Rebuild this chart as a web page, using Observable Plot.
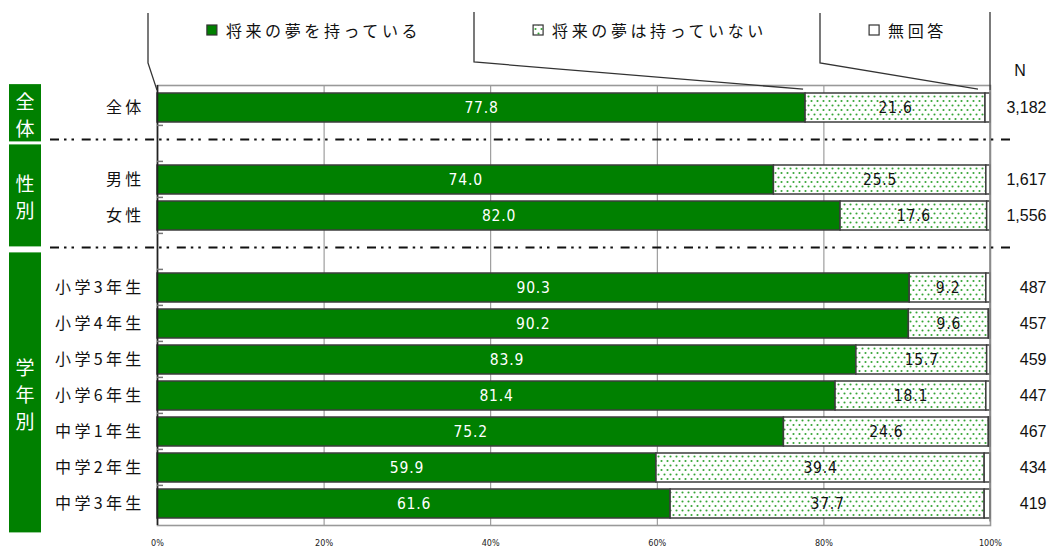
<!DOCTYPE html>
<html><head><meta charset="utf-8">
<script src="https://cdn.jsdelivr.net/npm/d3@7"></script>
<script src="https://cdn.jsdelivr.net/npm/@observablehq/plot@0.6"></script>
<style>
body{margin:0;background:#fff;}
#chart svg{display:block}
</style></head><body>
<svg width="0" height="0" style="position:absolute">
<defs>
<pattern id="dots" patternUnits="userSpaceOnUse" width="6" height="9">
<rect width="6" height="9" fill="#fff"/>
<circle cx="1.5" cy="2" r="1.05" fill="#35a535"/>
<circle cx="4.5" cy="6.5" r="1.05" fill="#35a535"/>
</pattern>
</defs></svg>
<div id="chart"></div>
<script>
const categories = ["全体","男性","女性","小学3年生","小学4年生","小学5年生","小学6年生","中学1年生","中学2年生","中学3年生"];
const haveDream = [77.8,74.0,82.0,90.3,90.2,83.9,81.4,75.2,59.9,61.6];
const noDream   = [21.6,25.5,17.6,9.2,9.6,15.7,18.1,24.6,39.4,37.7];
const noAnswer  = [0.6,0.5,0.4,0.5,0.2,0.4,0.5,0.2,0.7,0.7];
const nValues   = ["3,182","1,617","1,556","487","457","459","447","467","434","419"];
const seriesNames = ["将来の夢を持っている","将来の夢は持っていない","無回答"];
const seriesFills = ["#008000","url(#dots)","#ffffff"];
const groupNames = ["全体","性別","学年別"];
const xTicks = [0,20,40,60,80,100];
const gridTicks = [20,40,60,80];

const gapKeys = ["_gap1","_gap2"];
const rowOrder = [categories[0], gapKeys[0], categories[1], categories[2], gapKeys[1], ...categories.slice(3)];

const segments = [];
categories.forEach((c,i)=>{
  const vals = [haveDream[i], noDream[i], noAnswer[i]];
  let acc = 0;
  vals.forEach((v,j)=>{ segments.push({cat:c, series:seriesNames[j], value:v, x1:acc, x2:acc+v}); acc += v; });
});
const rows = categories.map((c,i)=>({cat:c, n:nValues[i]}));

const JP = "'Noto Sans CJK JP', 'Noto Sans', sans-serif";
const LIB = "'Liberation Sans', Arial, sans-serif";
const NARROW = "'Liberation Sans Narrow', 'DejaVu Sans Condensed', sans-serif";
const plot = Plot.plot({
  width: 1049, height: 550,
  marginLeft: 157, marginRight: 59, marginTop: 85, marginBottom: 25,
  style: {fontFamily: JP, background: "#fff", overflow: "visible"},
  x: {domain: [0,100], axis: null},
  y: {domain: rowOrder, paddingInner: 0.2, paddingOuter: 0.1, axis: null},
  color: {domain: seriesNames, range: seriesFills},
  marks: [
    Plot.gridX(gridTicks, {stroke: "#8a8a8a", strokeOpacity: 1, strokeWidth: 1}),
    Plot.frame({stroke: "#999", strokeWidth: 1.6}),
    Plot.barX(segments, {x1: "x1", x2: "x2", y: "cat", fill: "series", stroke: "#3c3c3c", strokeWidth: 1.5}),
    Plot.text(segments.filter(d=>d.series===seriesNames[0]), {x: d=>(d.x1+d.x2)/2, y: "cat", text: d=>d.value.toFixed(1), fill: "#fff", fontSize: 15.5, fontFamily: NARROW}),
    Plot.text(segments.filter(d=>d.series===seriesNames[1]), {x: d=>(d.x1+d.x2)/2, y: "cat", text: d=>d.value.toFixed(1), fill: "#111", fontSize: 15.5, fontFamily: NARROW}),
    Plot.ruleX([0], {stroke: "#222", strokeWidth: 1.6}),
    Plot.text(rows, {y: "cat", text: "cat", frameAnchor: "left", textAnchor: "end", dx: -13, fontSize: 16, fill: "#111"}),
    Plot.text(rows, {y: "cat", text: "n", frameAnchor: "right", textAnchor: "end", dx: 56, fontSize: 16, fill: "#111", fontFamily: LIB}),
    Plot.axisX(xTicks, {anchor: "bottom", tickSize: 0, tickPadding: 14, tickFormat: d=>d+"%", fontSize: 9, fontFamily: NARROW, fill: "#222"})
  ]
});
document.getElementById("chart").append(plot);

const xs = plot.scale("x"), ys = plot.scale("y");
const X = v => xs.apply(v);
const step = ys.apply(rowOrder[1]) - ys.apply(rowOrder[0]);
const bw = step * 0.8;
const center = k => ys.apply(k) + bw/2;
const svg = d3.select(plot);
const markTexts = svg.selectAll("g[aria-label=text] text");
markTexts.filter(function(){ return /^\d+\.\d$/.test(this.textContent); }).attr("letter-spacing", "0.8px");
markTexts.filter(function(){ return categories.includes(this.textContent); }).attr("letter-spacing", "3.3px");

const ann = svg.append("g").attr("text-anchor", "start");
// left small ticks at band boundaries
const bounds = rowOrder.map(k => center(k) - step/2).concat([center(rowOrder[rowOrder.length-1]) + step/2]);
ann.selectAll("line.bt").data(bounds.slice(1,-1)).join("line")
  .attr("x1", X(0)).attr("x2", X(0)+6).attr("y1", d=>d).attr("y2", d=>d)
  .attr("stroke", "#777").attr("stroke-width", 1.5);

// dashed separators
const dashY = gapKeys.map(k => center(k) - 4);
ann.selectAll("line.dash").data(dashY).join("line")
  .attr("x1", 50).attr("x2", 1010).attr("y1", d=>d).attr("y2", d=>d)
  .attr("stroke", "#111").attr("stroke-width", 2)
  .attr("stroke-dasharray", "9,5,2.5,5,2.5,7.7");

// group boxes
const lastKey = rowOrder[rowOrder.length-1];
const boxes = [
  {name: groupNames[0], y1: ys.apply(categories[0]) - bw*0.1 - 6, y2: dashY[0] + 2},
  {name: groupNames[1], y1: dashY[0] + 5, y2: dashY[1] - 1},
  {name: groupNames[2], y1: dashY[1] + 5, y2: center(lastKey) + step/2 + 11}
];
boxes.forEach(b=>{
  ann.append("rect").attr("x", 9).attr("y", b.y1).attr("width", 32).attr("height", b.y2-b.y1).attr("fill", "#008000");
  const chars = Array.from(b.name);
  const mid = (b.y1+b.y2)/2 + 1, lh = 27;
  chars.forEach((ch,i)=>{
    ann.append("text").attr("x", 25).attr("y", mid + (i-(chars.length-1)/2)*lh)
      .attr("text-anchor","middle").attr("dominant-baseline","central")
      .attr("fill","#fff").attr("font-size", 19).attr("font-family", JP).text(ch);
  });
});

// legend brackets
const topY = ys.apply(rowOrder[0]) - bw*0.1;
const bx = [X(0)-9, 474, 820, X(100)];
const cum1 = haveDream[0], cum2 = haveDream[0] + noDream[0];
const paths = [
  [[bx[0],13],[bx[0],63],[X(0),topY]],
  [[bx[1],12],[bx[1],62],[X(cum1)-2,topY-1]],
  [[bx[2],13],[bx[2],63],[X(cum2)-7,topY-1]],
  [[bx[3],12],[bx[3],topY]]
];
paths.forEach(p=>{
  ann.append("path").attr("d", d3.line()(p)).attr("fill","none").attr("stroke","#333").attr("stroke-width",1.3);
});
// right border extension
ann.append("line").attr("x1", X(100)).attr("x2", X(100)).attr("y1", topY).attr("y2", center(lastKey)+step/2)
  .attr("stroke","#888").attr("stroke-width",1.6);

// legend entries
seriesNames.forEach((s,i)=>{
  const mid = (bx[i]+bx[i+1])/2;
  const t = ann.append("text").attr("y", 37).attr("font-size", 16).attr("font-family", JP)
    .attr("text-anchor","start").attr("letter-spacing", "3.6px").attr("fill","#111").text(s);
  const w = t.node().getComputedTextLength();
  const total = 10 + 9 + w;
  const x0 = mid - total/2 + 3;
  t.attr("x", x0 + 19);
  ann.append("rect").attr("x", x0).attr("y", 25).attr("width", 10).attr("height", 10)
    .attr("fill", seriesFills[i]).attr("stroke", "#333").attr("stroke-width", 1.2);
});

// N header
ann.append("text").attr("x", 1020).attr("y", 70).attr("text-anchor","middle").attr("dominant-baseline","central")
  .attr("font-size", 16).attr("font-family", LIB).attr("fill","#111").text("N");
</script>
</body></html>
